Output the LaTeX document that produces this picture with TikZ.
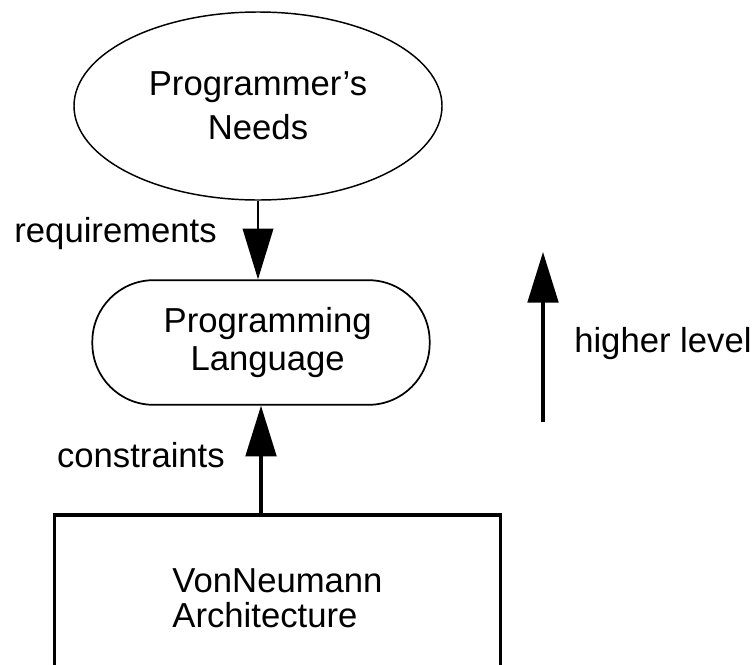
\documentclass[tikz,border=0pt]{standalone}
\usepackage{fontspec}
\setmainfont{Liberation Sans}
\usetikzlibrary{shapes.geometric, arrows.meta, positioning}

\tikzset{
  thinline/.style={line width=1.1pt},
  boldline/.style={line width=2.3pt},
  bigtip/.style={-{Triangle[length=38pt, width=23pt]}},
  tag/.style={inner sep=0pt},
}

\begin{document}
\begin{tikzpicture}[x=0.75pt, y=-0.75pt,
    every node/.style={font=\fontsize{26}{30}\selectfont}]
    \useasboundingbox (0,0) rectangle (755,664);

    \node[draw, thinline, ellipse, minimum width=276pt, minimum height=141pt,
          align=center, font=\fontsize{26}{33}\selectfont]
          (needs) at (258,106) {Programmer's\\Needs};
    \node[draw, line width=1.3pt, rounded corners=46pt, minimum width=253pt,
          minimum height=93.5pt, align=center,
          font=\fontsize{26}{28.5}\selectfont]
          (lang) at (261,342.5) {\hspace*{10pt}Programming\\\hspace*{10pt}Language};
    \node[draw, boldline, minimum width=334pt, minimum height=124.5pt,
          align=left, font=\fontsize{26}{26}\selectfont]
          (arch) at (277.5,598) {VonNeumann\\Architecture};

    \draw[thinline, bigtip] (needs.south) -- (needs.south |- lang.north);
    \draw[boldline, bigtip] (lang.south |- arch.north) -- (lang.south);
    \node[tag, anchor=base east] (req) at (217,242) {requirements};
    \node[tag, anchor=base east] (con) at (225,467) {constraints};

    % direction of abstraction
    \coordinate (low) at (543,422);
    \coordinate (high) at (543,252);
    \draw[boldline, bigtip] (low) -- (high);
    \node[tag, anchor=base west] (level) at (574,352) {higher level};
  \end{tikzpicture}
\end{document}
